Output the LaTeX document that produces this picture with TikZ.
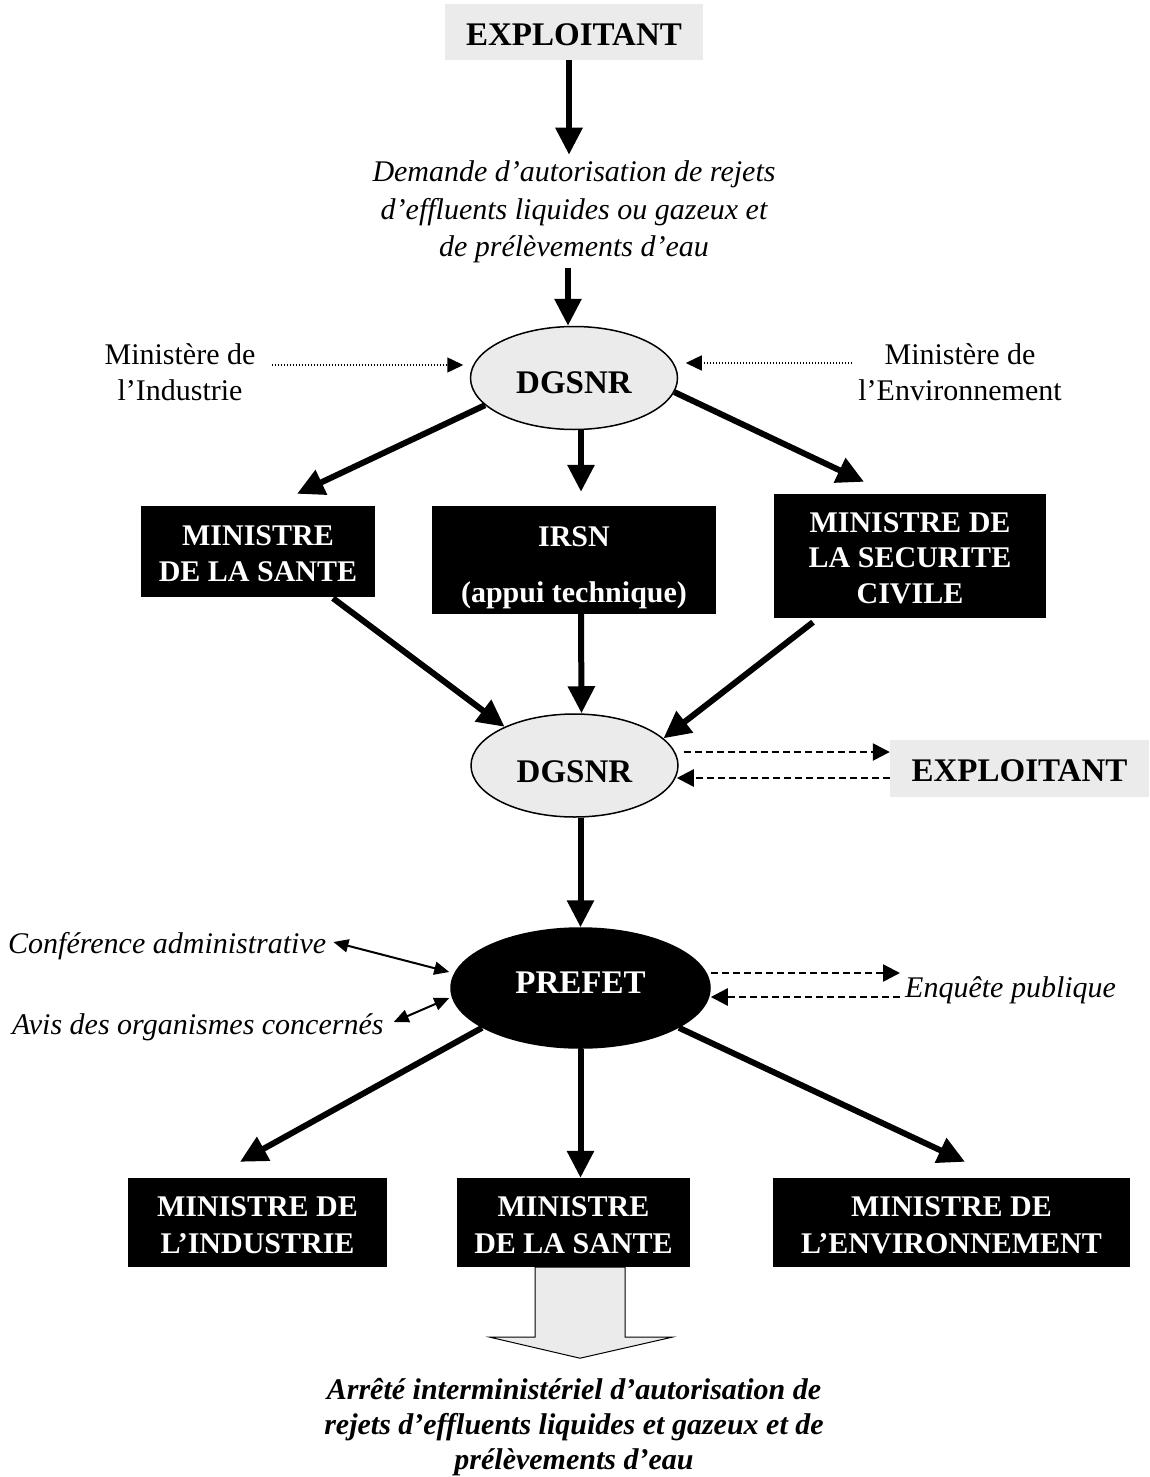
\documentclass[tikz,border=0pt]{standalone}
\usepackage{fontspec}
\setmainfont{Liberation Serif}
\usetikzlibrary{arrows.meta,shapes.geometric,calc}
\definecolor{lgray}{RGB}{235,235,235}
\begin{document}
\begin{tikzpicture}[x=1pt,y=-1pt,
  graybox/.style={rectangle, fill=lgray, inner sep=0pt, font=\fontsize{33}{40}\selectfont\bfseries},
  blackbox/.style={rectangle, fill=black, text=white, inner sep=0pt, align=center, font=\fontsize{30}{36.5}\selectfont\bfseries},
  oval/.style={ellipse, draw, line width=1.5pt, fill=lgray, inner sep=0pt, minimum width=207pt, minimum height=103pt, font=\fontsize{33}{40}\selectfont\bfseries},
  txt/.style={inner sep=0pt, align=center, font=\fontsize{30}{36}\selectfont},
  itext/.style={inner sep=0pt, align=center, font=\fontsize{30}{37.5}\selectfont\itshape},
  bigarr/.style={line width=6pt, -{Triangle[length=27pt,width=26pt]}},
  dasharr/.style={line width=2.5pt, dash pattern=on 7pt off 4pt, -{Triangle[length=17pt,width=17pt]}},
  dotarr/.style={line width=1.5pt, dash pattern=on 1.5pt off 1.5pt, -{Triangle[length=16pt,width=15pt]}},
  boththin/.style={line width=2pt, {Triangle[length=15pt,width=13pt]}-{Triangle[length=15pt,width=13pt]}}
]
\useasboundingbox (0,0) rectangle (1149,1477);

% nodes
\node[graybox, minimum width=258pt, minimum height=56pt, text height=28pt, text depth=0pt] (ex1) at (574,32) {EXPLOITANT};
\node[itext] (dem) at (574,212) {Demande d’autorisation de rejets\\d’effluents liquides ou gazeux et\\de prélèvements d’eau};
\node[oval, text height=32pt] (d1) at (574,378) {DGSNR};
\node[txt] (mi) at (180,372) {Ministère de\\l’Industrie};
\node[txt] (me) at (960,372) {Ministère de\\l’Environnement};
\node[blackbox, minimum width=234pt, minimum height=91pt, text height=60.5pt, text depth=0pt] (s1) at (258,551.5) {MINISTRE\\DE LA SANTE};
\node[blackbox, minimum width=284pt, minimum height=108pt, text height=84pt, text depth=0pt] (irsn) at (574,560) {IRSN\\[19.5pt](appui technique)};
\node[blackbox, minimum width=272pt, minimum height=124pt, text height=94pt, text depth=0pt, font=\fontsize{30}{35.5}\selectfont\bfseries] (sec) at (910,556) {MINISTRE DE\\LA SECURITE\\CIVILE};
\node[oval, text height=34pt] (d2) at (574.5,765.5) {DGSNR};
\node[graybox, minimum width=259pt, minimum height=57pt, text height=25pt, text depth=0pt] (ex2) at (1019.5,768.5) {EXPLOITANT};
\node[oval, fill=black, text=white, minimum width=259pt, minimum height=120pt, text depth=10pt] (pr) at (580.5,988) {PREFET};
\node[itext, anchor=west] (conf) at (8,946) {Conférence administrative};
\node[itext, anchor=west] (avis) at (12,1027) {Avis des organismes concernés};
\node[itext, anchor=west] (enq) at (905,990) {Enquête publique};
\node[blackbox, minimum width=259pt, minimum height=89pt, text height=61.5pt, text depth=0pt] (ind) at (257.5,1222.5) {MINISTRE DE\\L’INDUSTRIE};
\node[blackbox, minimum width=233pt, minimum height=89pt, text height=61.5pt, text depth=0pt] (s2) at (573.5,1222.5) {MINISTRE\\DE LA SANTE};
\node[blackbox, minimum width=357pt, minimum height=89pt, text height=61.5pt, text depth=0pt] (env) at (951.5,1222.5) {MINISTRE DE\\L’ENVIRONNEMENT};
\node[itext, font=\fontsize{30}{35}\selectfont\bfseries\itshape] (arr) at (574,1427) {Arrêté interministériel d’autorisation de\\rejets d’effluents liquides et gazeux et de\\prélèvements d’eau};

% connectors
\draw[bigarr] ([xshift=-5pt]ex1.south) -- ([xshift=-5pt,yshift=6pt]dem.north);
\draw[bigarr] ([xshift=-6pt,yshift=-5pt]dem.south) -- ([xshift=-6pt]d1.north);
\draw[dotarr] ([xshift=16pt,yshift=7pt]mi.east) -- ([xshift=-6.5pt,yshift=13pt]d1.west);
\draw[dotarr] ([xshift=-6pt,yshift=9pt]me.west) -- ([xshift=7.5pt,yshift=15pt]d1.east);
\draw[bigarr] (d1.197.6) -- ([xshift=39pt,yshift=12pt]s1.north);
\draw[bigarr] ([xshift=7pt]d1.south) -- ([xshift=7pt,yshift=14pt]irsn.north);
\draw[bigarr] (d1.352.4) -- ([xshift=-46pt,yshift=12pt]sec.north);
\draw[bigarr] ([xshift=75pt,yshift=-1pt]s1.south) -- (d2.151);
\draw[bigarr] ([xshift=7pt]irsn.south) -- ([xshift=7pt]d2.north);
\draw[bigarr] ([xshift=-97pt,yshift=-4pt]sec.south) -- (d2.17.8);
\draw[dasharr] ([xshift=5pt,yshift=13.5pt]d2.east) -- ([yshift=16.5pt]ex2.west);
\draw[dasharr] ([yshift=-9.5pt]ex2.west) -- ([xshift=-2pt,yshift=-12.5pt]d2.east);
\draw[bigarr] (d2.south -| pr.north) -- (pr.north);
\draw[boththin] ([xshift=7pt,yshift=4pt]conf.east) -- ([xshift=-1pt,yshift=16pt]pr.west);
\draw[boththin] ([xshift=10pt,yshift=5pt]avis.east) -- ([xshift=-1pt,yshift=-10pt]pr.west);
\draw[dasharr] ([yshift=15pt]pr.east) -- ([xshift=-5pt,yshift=17pt]enq.west);
\draw[dasharr] ([xshift=-5pt,yshift=-7pt]enq.west) -- ([yshift=-9pt]pr.east);
\draw[bigarr] (pr.202.3) -- ([xshift=-17.5pt,yshift=16pt]ind.north);
\draw[bigarr] (pr.south) -- (pr.south |- s2.north);
\draw[bigarr] (pr.338.2) -- ([xshift=13.5pt,yshift=16pt]env.north);

% block arrow
\draw[line width=1pt, fill=lgray] ([xshift=-38.5pt]s2.south) -- ++(0,70) -- ++(-45,0) -- ++(90,21) -- ++(92,-21) -- ++(-47,0) -- ++(0,-70) -- cycle;
\end{tikzpicture}
\end{document}
